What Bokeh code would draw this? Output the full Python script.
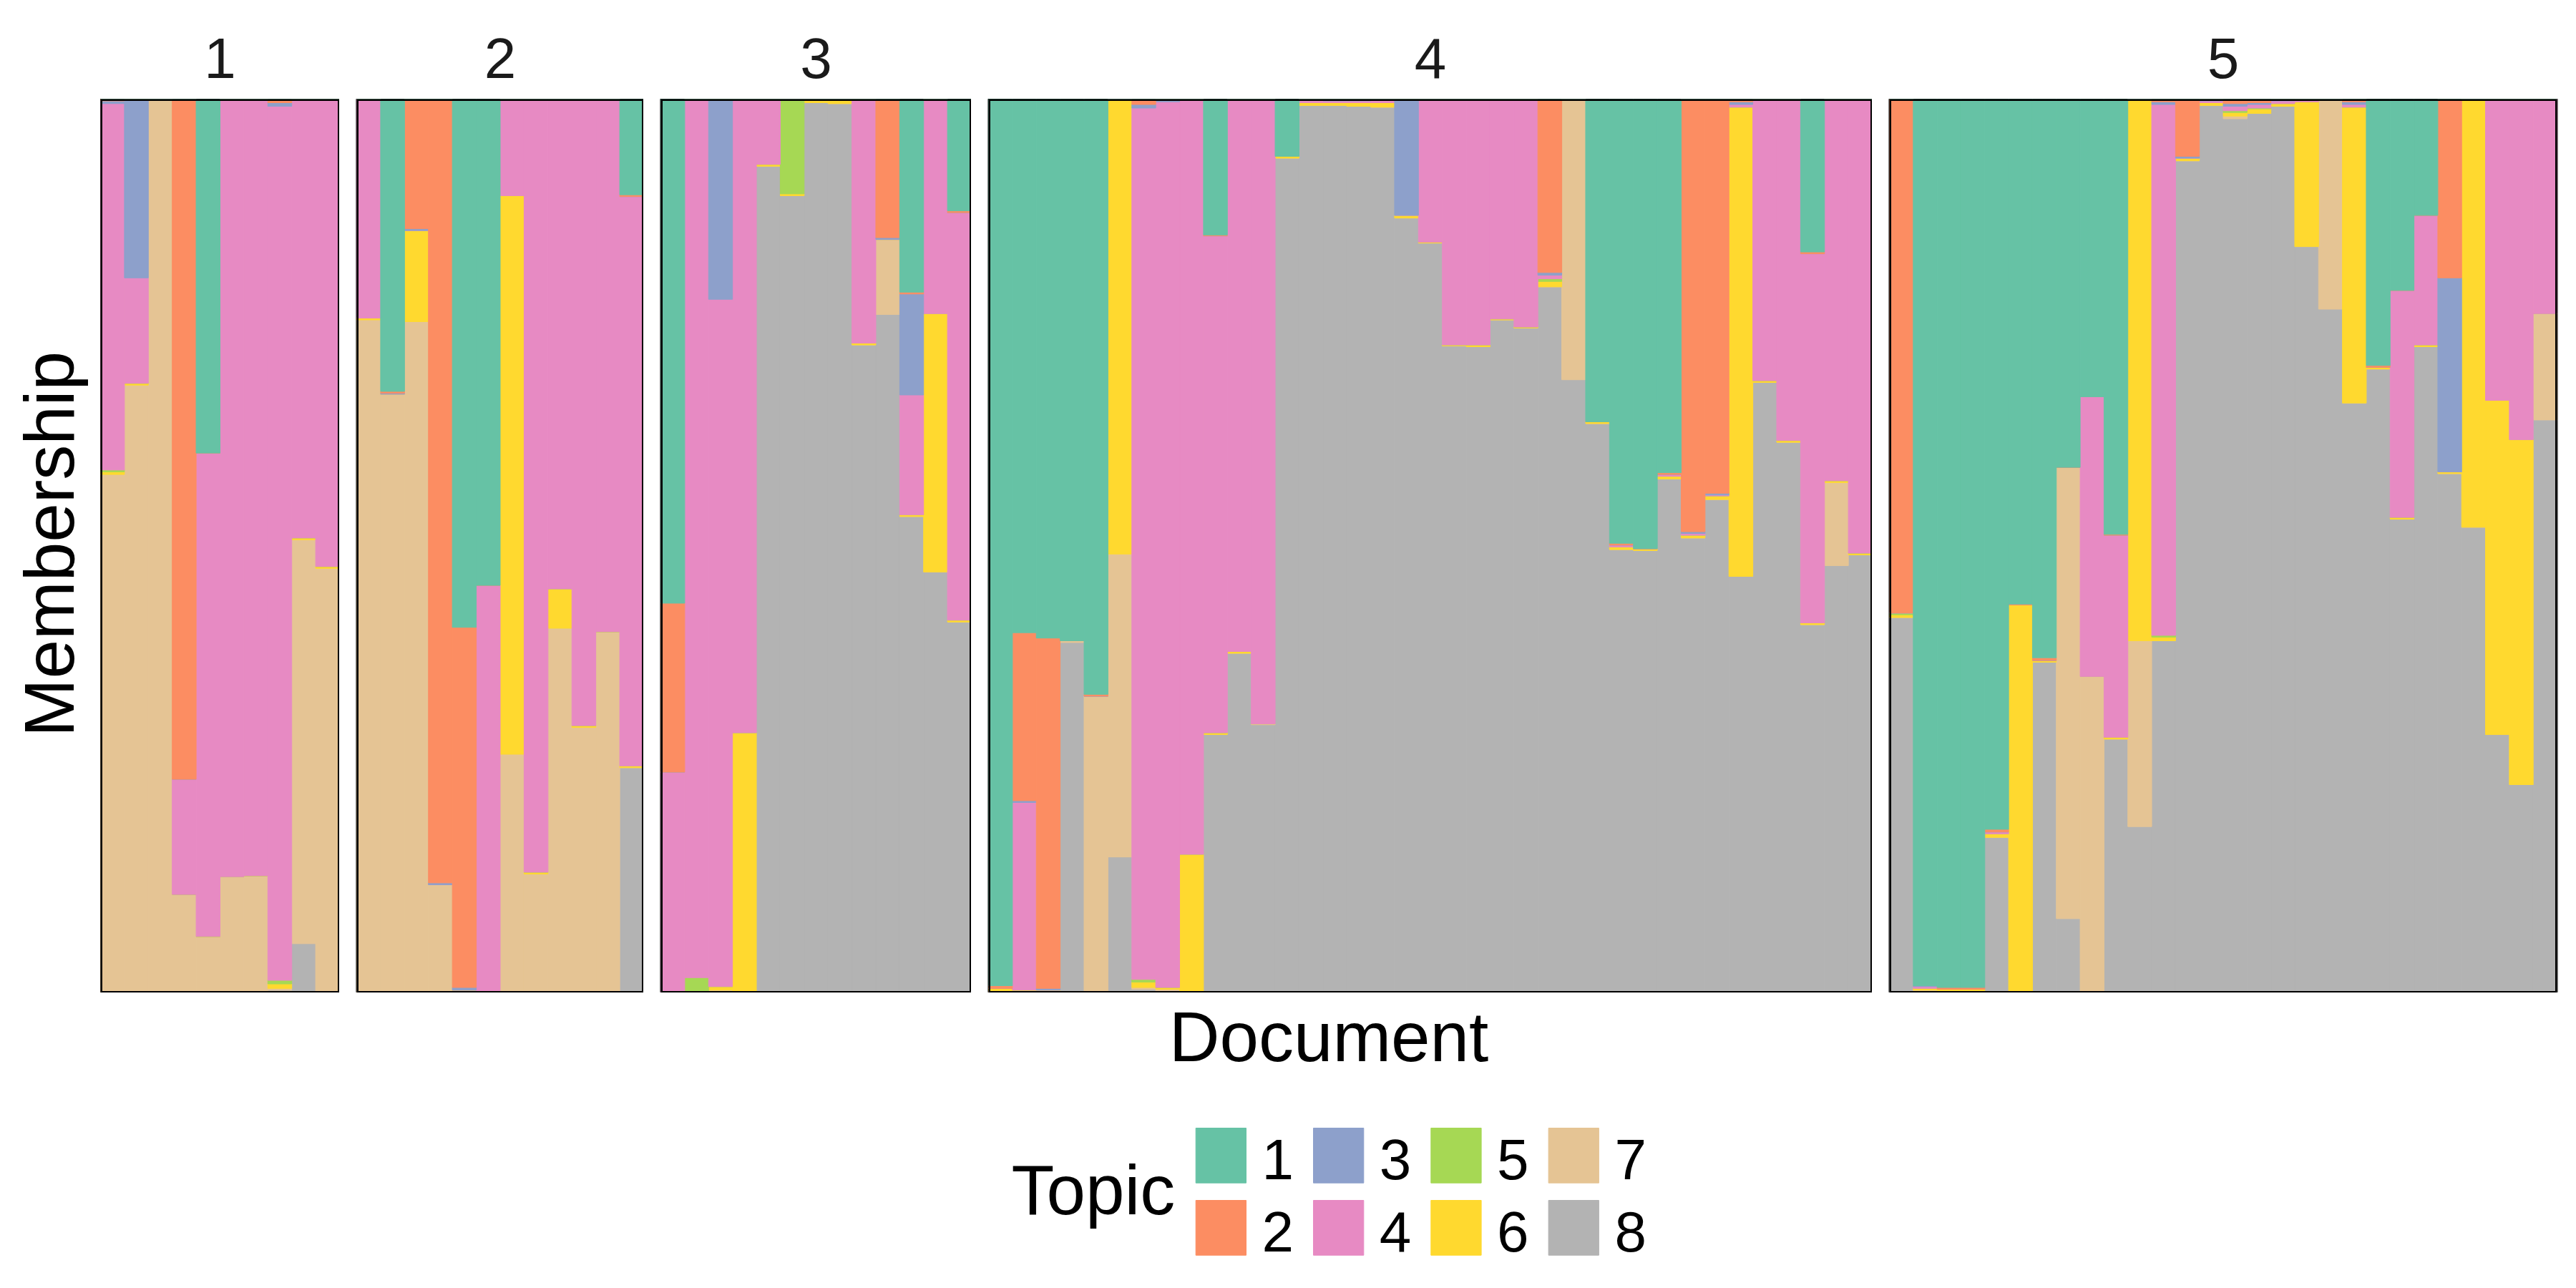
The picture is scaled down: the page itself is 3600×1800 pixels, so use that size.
import math
from bokeh.plotting import figure
from bokeh.layouts import row, column
from bokeh.models import Range1d, ColumnDataSource, Spacer
from bokeh.embed import file_html
from bokeh.resources import INLINE
from bokeh.core.properties import value

# ---------------- data ----------------
topics = ["1", "2", "3", "4", "5", "6", "7", "8"]
topic_colors = ["#66C2A5", "#FC8D62", "#8DA0CB", "#E78AC3",
                "#A6D854", "#FFD92F", "#E5C494", "#B3B3B3"]
panel_labels = ["1", "2", "3", "4", "5"]

# each row = one document: membership in topic 1..8
panel1_docs = [
    (0, .002, .003, .410, .002, .003, .580, 0),
    (0, 0, .200, .118, 0, .002, .680, 0),
    (0, 0, 0, 0, 0, 0, 1.0, 0),
    (0, .761, 0, .129, 0, 0, .110, 0),
    (.396, 0, 0, .541, 0, 0, .063, 0),
    (0, 0, 0, .870, 0, 0, .130, 0),
    (0, 0, 0, .869, 0, 0, .131, 0),
    (0, .004, .004, .978, .004, .005, .002, .003),
    (0, 0, 0, .491, 0, .002, .452, .055),
    (0, 0, 0, .523, 0, .002, .475, 0),
]
panel2_docs = [
    (0, 0, 0, .245, 0, .002, .753, 0),
    (.327, .002, .001, 0, 0, 0, .670, 0),
    (0, .145, .002, 0, 0, .102, .751, 0),
    (0, .877, .002, 0, 0, 0, .121, 0),
    (.591, .403, .003, 0, 0, .003, 0, 0),
    (.544, 0, 0, .454, .002, 0, 0, 0),
    (0, 0, 0, .108, 0, .625, .267, 0),
    (0, 0, 0, .865, 0, .002, .133, 0),
    (0, 0, 0, .548, 0, .044, .408, 0),
    (0, 0, 0, .701, 0, .002, .297, 0),
    (0, 0, 0, .596, 0, 0, .404, 0),
    (.107, .002, 0, .637, 0, .002, 0, .252),
]
panel3_docs = [
    (.564, .189, 0, .247, 0, 0, 0, 0),
    (0, 0, 0, .983, .017, 0, 0, 0),
    (0, 0, .224, .769, 0, .004, .003, 0),
    (0, 0, 0, .709, 0, .291, 0, 0),
    (0, 0, 0, .073, 0, .002, 0, .925),
    (0, 0, 0, 0, .106, .002, 0, .892),
    (0, 0, 0, 0, 0, .004, 0, .996),
    (0, 0, 0, 0, 0, .005, 0, .995),
    (0, 0, 0, .273, 0, .002, 0, .725),
    (0, .155, .002, 0, 0, 0, .084, .759),
    (.216, .002, .113, .134, 0, .002, 0, .533),
    (0, 0, 0, .240, 0, .289, 0, .471),
    (.125, .002, 0, .456, 0, .002, 0, .415),
]
panel4_docs = [
    (.992, .003, 0, 0, 0, .003, .002, 0),
    (.597, .188, .002, .210, 0, .003, 0, 0),
    (.603, .392, .002, 0, 0, .003, 0, 0),
    (.606, 0, 0, 0, 0, 0, .002, .392),
    (.666, .002, 0, 0, 0, 0, .332, 0),
    (0, 0, 0, 0, 0, .509, .339, .152),
    (0, .006, .004, .975, .003, .006, .002, .004),
    (0, 0, .003, .991, 0, .002, .004, 0),
    (0, 0, 0, .845, 0, .155, 0, 0),
    (.152, .001, 0, .556, 0, .002, 0, .289),
    (0, 0, 0, .618, 0, .002, 0, .380),
    (0, 0, 0, .699, 0, 0, .001, .300),
    (.064, 0, 0, 0, 0, .002, 0, .934),
    (0, 0, 0, .004, 0, .003, 0, .993),
    (0, 0, .002, .002, 0, .003, 0, .993),
    (0, 0, .002, .002, 0, .004, 0, .992),
    (0, 0, 0, .004, 0, .005, 0, .991),
    (0, 0, .130, 0, 0, .003, 0, .867),
    (0, 0, 0, .160, 0, .001, 0, .839),
    (0, 0, 0, .275, 0, .001, 0, .724),
    (0, 0, 0, .275, 0, .002, 0, .723),
    (0, 0, 0, .246, 0, .001, 0, .753),
    (0, 0, 0, .255, 0, .001, 0, .744),
    (0, .194, .003, .004, .003, .006, 0, .790),
    (0, 0, 0, 0, 0, 0, .314, .686),
    (.361, 0, 0, 0, 0, .002, 0, .637),
    (.497, .002, 0, .002, 0, .003, 0, .496),
    (.503, 0, 0, 0, 0, .002, 0, .495),
    (.418, .002, 0, .002, 0, .003, 0, .575),
    (0, .484, .002, .002, 0, .003, 0, .509),
    (0, .441, .002, .001, 0, .004, 0, .552),
    (0, .003, .003, .003, 0, .525, 0, .466),
    (0, 0, 0, .315, 0, .002, 0, .683),
    (0, 0, 0, .382, 0, .002, 0, .616),
    (.171, .002, 0, .413, 0, .002, 0, .412),
    (0, 0, 0, .427, 0, .002, .093, .478),
    (0, 0, 0, .508, 0, .002, 0, .490),
]
panel5_docs = [
    (0, .575, 0, 0, .002, .003, 0, .420),
    (.992, 0, .001, .002, 0, .002, .003, 0),
    (.994, .002, 0, 0, 0, .004, 0, 0),
    (.994, .002, 0, 0, 0, .004, 0, 0),
    (.817, .003, 0, .002, 0, .004, 0, .174),
    (.565, .001, 0, 0, 0, .434, 0, 0),
    (.625, .003, 0, 0, 0, .002, 0, .370),
    (.412, 0, 0, 0, 0, 0, .505, .083),
    (.333, 0, 0, .313, 0, 0, .354, 0),
    (.487, .001, 0, .226, 0, .002, 0, .284),
    (0, 0, 0, 0, 0, .606, .208, .186),
    (0, .003, .003, .594, .002, .004, 0, .394),
    (0, .064, .002, 0, 0, .003, 0, .931),
    (0, 0, .002, .002, 0, .003, 0, .993),
    (0, .005, .003, .005, .002, .004, .003, .978),
    (0, .004, .002, .004, .001, .005, 0, .984),
    (0, 0, .002, .003, 0, .003, 0, .992),
    (0, 0, 0, .003, 0, .162, 0, .835),
    (0, 0, 0, 0, 0, 0, .235, .765),
    (0, .003, .003, .003, 0, .331, 0, .660),
    (.298, .002, 0, 0, 0, .002, 0, .698),
    (.214, 0, 0, .254, 0, .002, 0, .530),
    (.130, 0, 0, .145, 0, .002, 0, .723),
    (0, .200, .217, 0, 0, .002, 0, .581),
    (0, 0, 0, 0, 0, .479, 0, .521),
    (0, 0, 0, .337, 0, .374, 0, .289),
    (0, 0, 0, .381, 0, .386, 0, .233),
    (0, 0, 0, .240, 0, 0, .119, .641),
]
panels_docs = [panel1_docs, panel2_docs, panel3_docs, panel4_docs, panel5_docs]

# ---------------- layout constants (px) ----------------
FONT = "Liberation Sans"
TOP = 138          # strip label band above the panel frames
FRAME_H = 1249
YLAB_W = 140
GAP = 24
BAR_W = 33.38
TOTAL_W = 3592
PANELS_RIGHT = 3573
RIGHT_PAD = TOTAL_W - PANELS_RIGHT
BOTTOM_H = 405
UPPER_H = TOP + FRAME_H


def bare(**kw):
    f = figure(output_backend="svg", toolbar_location=None,
               x_axis_location=None, y_axis_location=None,
               outline_line_color=None, **kw)
    f.grid.visible = False
    return f


# ---------------- y-axis title figure ----------------
fy = bare(width=YLAB_W, height=FRAME_H, x_range=Range1d(0, YLAB_W),
          y_range=Range1d(0, FRAME_H), min_border=0)
fy.text(x=[68], y=[627], text=["Membership"], angle=math.pi / 2,
        text_align="center", text_baseline="alphabetic",
        text_font=value(FONT), text_font_size="98px", text_color="black")

# ---------------- panels + strips ----------------
stack_order = list(reversed(range(len(topics))))  # topic 8 at bottom, topic 1 on top
stackers = ["t" + topics[i] for i in stack_order]
stack_colors = [topic_colors[i] for i in stack_order]

panel_figs = []
strip_figs = []
for k, (label, docs) in enumerate(zip(panel_labels, panels_docs)):
    n = len(docs)
    frame_w = int(round(n * BAR_W))
    left = 0 if k == 0 else GAP
    right = RIGHT_PAD if k == len(panels_docs) - 1 else 0
    if k == len(panels_docs) - 1:
        used = YLAB_W + sum(f.width for f in panel_figs)
        frame_w = TOTAL_W - used - left - right
    xr = Range1d(0, n)
    data = {"x": [i + 0.5 for i in range(n)]}
    for j, t in enumerate(topics):
        data["t" + t] = [d[j] for d in docs]
    src = ColumnDataSource(data)
    p = figure(width=left + frame_w + right, height=FRAME_H,
               x_range=xr, y_range=Range1d(0, 1),
               output_backend="svg", toolbar_location=None,
               x_axis_location=None, y_axis_location=None,
               min_border_left=left, min_border_right=right,
               min_border_top=0, min_border_bottom=0,
               outline_line_color="black", outline_line_width=2,
               background_fill_color="white", border_fill_color="white")
    p.grid.visible = False
    p.vbar_stack(stackers, x="x", width=1.0, source=src,
                 fill_color=stack_colors, line_color=stack_colors, line_width=1)
    # panel border drawn over the bars (the frame clips half of the stroke)
    p.quad(left=[xr.start], right=[xr.end], bottom=[0], top=[1],
           fill_color=None, line_color="black", line_width=5)
    panel_figs.append(p)

    s = bare(width=left + frame_w + right, height=TOP, x_range=xr,
             y_range=Range1d(TOP, 0), min_border_left=left,
             min_border_right=right, min_border_top=0, min_border_bottom=0)
    s.text(x=[n / 2.0], y=[81], text=[label], text_align="center",
           text_baseline="alphabetic", text_font=value(FONT),
           text_font_size="80px", text_color="#1A1A1A")
    strip_figs.append(s)

# ---------------- bottom: x title + legend ----------------
fb = bare(width=TOTAL_W, height=BOTTOM_H, x_range=Range1d(0, TOTAL_W),
          y_range=Range1d(UPPER_H + BOTTOM_H, UPPER_H), min_border=0)
panels_center = YLAB_W + (PANELS_RIGHT - YLAB_W) / 2.0
fb.text(x=[panels_center], y=[1448], text=["Document"], text_align="center",
        text_baseline="alphabetic", text_font=value(FONT),
        text_font_size="98px", text_color="black")
fb.text(x=[1413], y=[1662], text=["Topic"], text_align="left",
        text_baseline="alphabetic", text_font=value(FONT),
        text_font_size="98px", text_color="black")

KEY_X0, KEY_Y0, KEY_W, KEY_H = 1670.7, 1576.0, 70.3, 76.7
COL_PITCH, ROW_PITCH = 164.3, 101.0
cols = [i // 2 for i in range(len(topics))]
rows_ = [i % 2 for i in range(len(topics))]
lefts = [KEY_X0 + COL_PITCH * c for c in cols]
rights = [l + KEY_W for l in lefts]
tops = [KEY_Y0 + ROW_PITCH * r for r in rows_]
bottoms = [t + KEY_H for t in tops]
fb.quad(left=lefts, right=rights, top=tops, bottom=bottoms,
        fill_color=topic_colors, line_color=topic_colors, line_width=1)
fb.text(x=[r + 22 for r in rights], y=[1620 + ROW_PITCH * r for r in rows_],
        text=topics, text_align="left", text_baseline="alphabetic",
        text_font=value(FONT), text_font_size="80px", text_color="black")

layout = column(row(Spacer(width=YLAB_W, height=TOP), *strip_figs),
                row(fy, *panel_figs),
                fb)
open("out.html", "w").write(file_html(layout, INLINE))
